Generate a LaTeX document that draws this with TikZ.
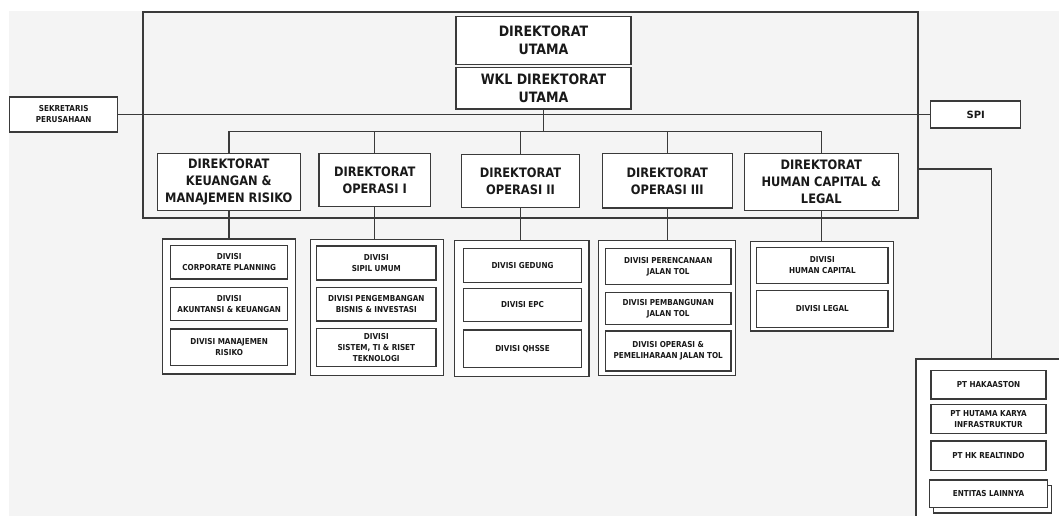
\documentclass[tikz,border=0pt]{standalone}
\usepackage{fontspec}
\setmainfont{DejaVu Sans}
\newfontfamily\condfont[FakeStretch=0.88]{DejaVu Sans}
\definecolor{bg}{HTML}{F4F4F4}
\definecolor{ln}{HTML}{3A3A3A}
\begin{document}
\begin{tikzpicture}[x=1pt,y=-1pt,
  box/.style={draw=ln, fill=white, line width=1.5pt, inner sep=0pt, align=center, text=black!90},
  topbox/.style={box, font=\condfont\bfseries\fontsize{14.3}{18.5}\selectfont},
  dirbox/.style={box, font=\condfont\bfseries\fontsize{13}{17}\selectfont},
  divbox/.style={box, font=\condfont\bfseries\fontsize{8.2}{11}\selectfont},
  grpbox/.style={draw=ln, fill=white, line width=1.4pt, inner sep=0pt},
  conn/.style={draw=ln, line width=1.4pt}]
\useasboundingbox (0,0) rectangle (1059,516);
\clip (0,0) rectangle (1059,516);
\fill[white] (0,0) rectangle (1059,516);
\fill[bg] (9,11) rectangle (1059,516);

% big frame
\node[draw=ln, line width=1.4pt, minimum width=775, minimum height=206, inner sep=0pt] (frame) at (530.5,115) {};

% top boxes
\node[topbox, minimum width=175, minimum height=47.6] (du) at (543.5,40.5) {DIREKTORAT\\UTAMA};
\node[topbox, minimum width=175, minimum height=41.3] (wkl) at (543.5,88.3) {WKL DIREKTORAT\\UTAMA};
\node[divbox, minimum width=108, minimum height=35.4] (sek) at (63.7,114.5) {SEKRETARIS\\PERUSAHAAN};
\node[box, font=\bfseries\fontsize{10}{12}\selectfont, minimum width=90, minimum height=27] (spi) at (975.7,114.5) {SPI};

% directorates
\node[dirbox, minimum width=143, minimum height=57.4] (d1) at (228.8,182) {DIREKTORAT\\KEUANGAN \&\\MANAJEMEN RISIKO};
\node[dirbox, minimum width=111.3, minimum height=53] (d2) at (374.7,180.2) {DIREKTORAT\\OPERASI I};
\node[dirbox, minimum width=117.6, minimum height=53] (d3) at (520.5,180.8) {DIREKTORAT\\OPERASI II};
\node[dirbox, minimum width=130, minimum height=54.3] (d4) at (667.3,180.8) {DIREKTORAT\\OPERASI III};
\node[dirbox, minimum width=154, minimum height=57.4] (d5) at (821.3,182) {DIREKTORAT\\HUMAN CAPITAL \&\\LEGAL};

% group frames
\node[grpbox, minimum width=133.4, minimum height=135] (g1) at (229,306.5) {};
\node[grpbox, minimum width=133, minimum height=136.4] (g2) at (376.8,307.5) {};
\node[grpbox, minimum width=134.3, minimum height=136] (g3) at (521.8,308.7) {};
\node[grpbox, minimum width=137, minimum height=135] (g4) at (667.2,308.2) {};
\node[grpbox, minimum width=142.6, minimum height=89.3] (g5) at (822,286.3) {};
\node[grpbox, minimum width=164, minimum height=181] (g6) at (998,449.5) {};

% divisions
\node[divbox, minimum width=117, minimum height=33.3] (g1a) at (229.2,262.3) {DIVISI\\CORPORATE PLANNING};
\node[divbox, minimum width=117, minimum height=33.4] (g1b) at (229.2,304) {DIVISI\\AKUNTANSI \& KEUANGAN};
\node[divbox, minimum width=117, minimum height=36.7] (g1c) at (229.2,347.3) {DIVISI MANAJEMEN\\RISIKO};

\node[divbox, minimum width=119.3, minimum height=34] (g2a) at (376.3,263) {DIVISI\\SIPIL UMUM};
\node[divbox, minimum width=119.3, minimum height=33.7] (g2b) at (376.3,304.2) {DIVISI PENGEMBANGAN\\BISNIS \& INVESTASI};
\node[divbox, minimum width=119.3, minimum height=38] (g2c) at (376.3,347.7) {DIVISI\\SISTEM, TI \& RISET\\TEKNOLOGI};

\node[divbox, minimum width=118.4, minimum height=34] (g3a) at (522.5,265.3) {DIVISI GEDUNG};
\node[divbox, minimum width=118.4, minimum height=33.4] (g3b) at (522.5,305) {DIVISI EPC};
\node[divbox, minimum width=118.4, minimum height=37.3] (g3c) at (522.5,348.7) {DIVISI QHSSE};

\node[divbox, minimum width=125.7, minimum height=35.6] (g4a) at (668.2,266.5) {DIVISI PERENCANAAN\\JALAN TOL};
\node[divbox, minimum width=125.7, minimum height=31.6] (g4b) at (668.2,308.5) {DIVISI PEMBANGUNAN\\JALAN TOL};
\node[divbox, minimum width=125.7, minimum height=40] (g4c) at (668.2,351) {DIVISI OPERASI \&\\PEMELIHARAAN JALAN TOL};

\node[divbox, minimum width=131.3, minimum height=36] (g5a) at (822.3,265.3) {DIVISI\\HUMAN CAPITAL};
\node[divbox, minimum width=131.3, minimum height=36.6] (g5b) at (822.3,309) {DIVISI LEGAL};

\node[divbox, minimum width=115, minimum height=28.3] (g6a) at (988.5,384.8) {PT HAKAASTON};
\node[divbox, minimum width=115, minimum height=29] (g6b) at (988.5,418.8) {PT HUTAMA KARYA\\INFRASTRUKTUR};
\node[divbox, minimum width=115, minimum height=29.7] (g6c) at (988.5,455.8) {PT HK REALTINDO};
\node[divbox, minimum width=118.4, minimum height=27.7] (g6e) at (992.5,499.3) {};
\node[divbox, minimum width=118.4, minimum height=27.7] (g6d) at (988.5,493.8) {ENTITAS LAINNYA};

% connectors
\draw[conn] (sek.east) -- (spi.west);
\draw[conn] (wkl.south) -- ++(0,22) coordinate (bus);
\draw[conn] (d1.north) -- (d1.north |- bus) -- (d5.north |- bus) -- (d5.north);
\foreach \d in {d2,d3,d4} \draw[conn] (\d.north) -- (\d.north |- bus);
\draw[conn] (d1.south) -- (d1.south |- g1.north);
\draw[conn] (d2.south) -- (d2.south |- g2.north);
\draw[conn] (d3.south) -- (d3.south |- g3.north);
\draw[conn] (d4.south) -- (d4.south |- g4.north);
\draw[conn] (d5.south) -- (d5.south |- g5.north);
\draw[conn] (frame.east) ++(0,54) -| ([xshift=-6.3pt]g6.north);
\end{tikzpicture}
\end{document}
